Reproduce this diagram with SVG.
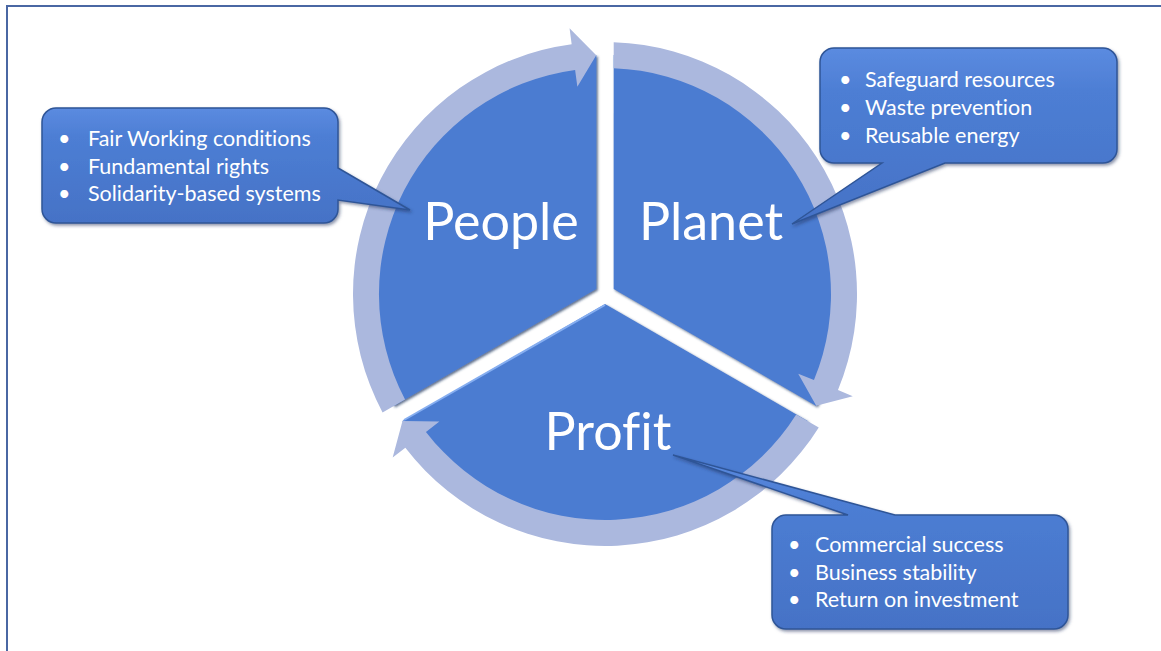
<svg xmlns="http://www.w3.org/2000/svg" width="1161" height="651" viewBox="0 0 1161 651">
<defs>
<style>
.sector{fill:#4b7bd1;filter:url(#sh);}
.ring{fill:#abb8de;}
.call{fill:url(#cg);stroke:#2f5597;stroke-width:1.5;filter:url(#sh2);}
.big{font-family:Lato,"Open Sans","Liberation Sans",sans-serif;font-size:52px;fill:#ffffff;text-anchor:middle;font-variant-ligatures:none;font-feature-settings:"liga" 0;}
.lst{font-family:Lato,"Open Sans","Liberation Sans",sans-serif;font-size:21.5px;fill:#ffffff;font-variant-ligatures:none;font-feature-settings:"liga" 0;}
.hl{stroke:#86aef0;stroke-width:2;fill:none;}
</style>
<linearGradient id="cg" x1="0" y1="0" x2="0" y2="1">
<stop offset="0" stop-color="#5b8be0"/>
<stop offset="0.25" stop-color="#4d7ed4"/>
<stop offset="1" stop-color="#4572c6"/>
</linearGradient>
<filter id="sh" x="-10%" y="-10%" width="120%" height="120%">
<feDropShadow dx="1.5" dy="1.5" stdDeviation="1.2" flood-color="#1c315c" flood-opacity="0.7"/>
</filter>
<filter id="sh2" x="-10%" y="-10%" width="120%" height="120%">
<feDropShadow dx="1.5" dy="2" stdDeviation="1.5" flood-color="#1c315c" flood-opacity="0.5"/>
</filter>
</defs>
<rect x="7" y="6" width="1160" height="650" fill="#ffffff" stroke="#4a67a3" stroke-width="2"/>

<g id="people">
<path class="sector" d="M596.34,289 L393.69,406 A234,234 0 0 1 596.34,55 Z"/>
<text class="big" x="501" y="240">People</text>
</g>
<g id="planet">
<path class="sector" d="M613.66,289 L613.66,55 A234,234 0 0 1 816.31,406 Z"/>
<text class="big" x="711" y="240">Planet</text>
</g>
<g id="profit">
<path class="sector" d="M605,304 L807.65,421 A234,234 0 0 1 402.35,421 Z"/>
<line class="hl" x1="404" y1="420" x2="605" y2="305"/>
<text class="big" x="608" y="450">Profit</text>
</g>

<g id="connectors">
<path class="ring" d="M382.55,412.4 A252,252 0 0 1 571.67,44.21 L569.55,28.35 L596.24,55.16 L577.36,86.84 L575.11,69.98 A226,226 0 0 0 405.05,399.4 Z"/>
<path class="ring" d="M613.7,42.15 A252,252 0 0 1 837.99,390.03 L852.78,396.13 L816.22,405.84 L798.23,373.64 L813.95,380.12 A226,226 0 0 0 613.7,68.17 Z"/>
<path class="ring" d="M818.75,427.4 A252,252 0 0 1 405.34,447.76 L392.67,457.52 L402.5,420.95 L439.41,421.52 L425.94,431.89 A226,226 0 0 0 796.2,414.4 Z"/>
</g>

<g id="callout-people">
<path class="call" d="M56,108 H324 A14,14 0 0 1 338,122 V168 L410,210 L338,200 V209 A14,14 0 0 1 324,223 H56 A14,14 0 0 1 42,209 V122 A14,14 0 0 1 56,108 Z"/>
<text class="lst" y="146"><tspan x="58">•</tspan><tspan x="88">Fair Working conditions</tspan></text>
<text class="lst" y="174"><tspan x="58">•</tspan><tspan x="88">Fundamental rights</tspan></text>
<text class="lst" y="201"><tspan x="58">•</tspan><tspan x="88">Solidarity-based systems</tspan></text>
</g>
<g id="callout-planet">
<path class="call" d="M834,48 H1103 A14,14 0 0 1 1117,62 V149 A14,14 0 0 1 1103,163 H945 L792,224 L882,163 H834 A14,14 0 0 1 820,149 V62 A14,14 0 0 1 834,48 Z"/>
<text class="lst" y="87"><tspan x="839">•</tspan><tspan x="865">Safeguard resources</tspan></text>
<text class="lst" y="115"><tspan x="839">•</tspan><tspan x="865">Waste prevention</tspan></text>
<text class="lst" y="143"><tspan x="839">•</tspan><tspan x="865">Reusable energy</tspan></text>
</g>
<g id="callout-profit">
<path class="call" d="M786,515 H848 L673,455 L895,515 H1054 A14,14 0 0 1 1068,529 V615 A14,14 0 0 1 1054,629 H786 A14,14 0 0 1 772,615 V529 A14,14 0 0 1 786,515 Z"/>
<text class="lst" y="552"><tspan x="788">•</tspan><tspan x="815">Commercial success</tspan></text>
<text class="lst" y="580"><tspan x="788">•</tspan><tspan x="815">Business stability</tspan></text>
<text class="lst" y="607"><tspan x="788">•</tspan><tspan x="815">Return on investment</tspan></text>
</g>
</svg>
